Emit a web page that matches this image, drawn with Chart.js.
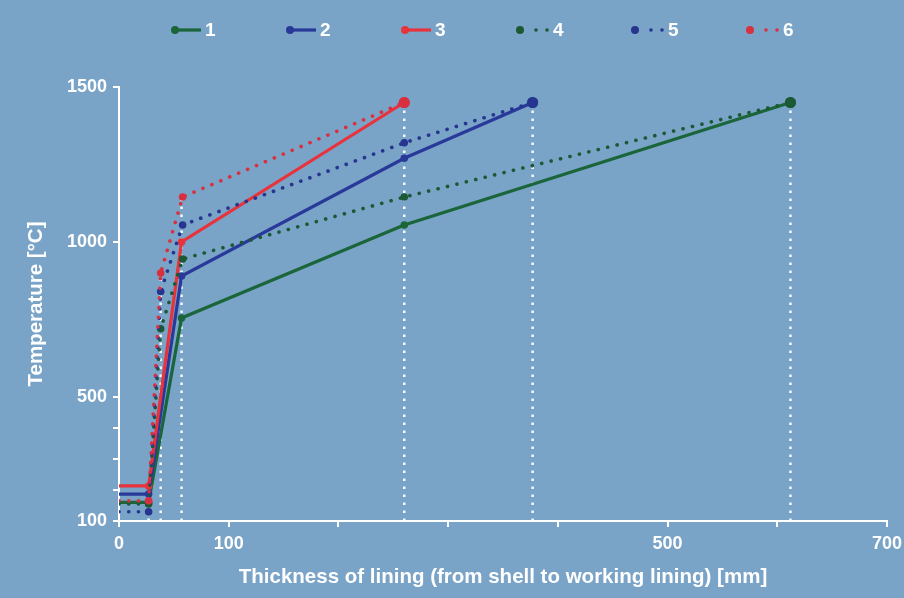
<!DOCTYPE html>
<html>
<head>
<meta charset="utf-8">
<script src="https://cdn.jsdelivr.net/npm/chart.js@4.4.1/dist/chart.umd.min.js"></script>
<style>
  html, body { margin: 0; padding: 0; background: #79a3c7; }
  #wrap { width: 904px; height: 598px; }
</style>
</head>
<body>
<div id="wrap"><canvas id="tempChart" width="904" height="598"></canvas></div>
<script>
// series names (legend)
const seriesNames = ['1', '2', '3', '4', '5', '6'];

// thickness [mm] / temperature [°C]
const s1X = [0, 27, 57, 260, 612];
const s1Y = [160, 160, 755, 1055, 1450];
const s2X = [0, 27, 57, 260, 377];
const s2Y = [187, 187, 890, 1270, 1450];
const s3X = [0, 27, 57, 260];
const s3Y = [213, 213, 1000, 1450];
const s4X = [0, 27, 38, 58, 260, 612];
const s4Y = [155, 155, 720, 945, 1145, 1450];
const s5X = [0, 27, 38, 58, 260, 377];
const s5Y = [130, 130, 840, 1055, 1320, 1450];
const s6X = [0, 27, 38, 58, 260];
const s6Y = [165, 165, 900, 1145, 1450];

// white dotted drop lines
const guideX = [27, 38, 57, 260, 377, 612];
const guideTop = [215, 900, 1145, 1450, 1450, 1450];

// axis ticks
const xTickValues = [0, 100, 200, 300, 400, 500, 600, 700];
const xTickLabels = [0, 100, 500, 700];
const yTickValues = [100, 200, 300, 400, 500, 1000, 1500];
const yTickLabels = [100, 500, 1000, 1500];

const seriesColors = ['#1a6539', '#29399a', '#e8333d', '#1b5934', '#26358f', '#d9303f'];
const FONT = "'Liberation Sans', Arial, sans-serif";

function pts(xs, ys) {
    return xs.map((x, i) => ({ x: x, y: ys[i] }));
}

function radii(n) {
    // no marker at the shell, bigger marker at the end
    return Array.from({ length: n }, (_, i) => i === 0 ? 0 : (i === n - 1 ? 5.5 : 3.8));
}

const allX = [s1X, s2X, s3X, s4X, s5X, s6X];
const allY = [s1Y, s2Y, s3Y, s4Y, s5Y, s6Y];

let datasets = [];
seriesNames.forEach((name, i) => {
    const dotted = i >= 3;
    datasets.push({
        label: name,
        data: pts(allX[i], allY[i]),
        showLine: true,
        borderColor: seriesColors[i],
        backgroundColor: seriesColors[i],
        borderWidth: dotted ? 3.6 : 3.2,
        borderDash: dotted ? [0.1, 9.6] : [],
        borderCapStyle: dotted ? 'round' : 'butt',
        pointRadius: radii(allX[i].length),
        pointBorderWidth: 0,
        order: 6 - i
    });
});

guideX.forEach((gx, i) => {
    datasets.push({
        label: 'guide',
        data: [{ x: gx, y: 100 }, { x: gx, y: guideTop[i] }],
        showLine: true,
        borderColor: 'rgba(255,255,255,0.95)',
        borderWidth: 2.5,
        borderDash: [2.5, 5.5],
        pointRadius: 0,
        order: 20
    });
});

// legend drawn by hand: dot + line / dot + dots
const manualLegend = {
    id: 'manualLegend',
    afterDraw(chart) {
        const ctx = chart.ctx;
        const y = 30;
        ctx.save();
        seriesNames.forEach((name, i) => {
            const x0 = chart.chartArea.left + 56 + i * 115;
            ctx.fillStyle = seriesColors[i];
            ctx.strokeStyle = seriesColors[i];
            ctx.beginPath();
            ctx.arc(x0, y, 4, 0, Math.PI * 2);
            ctx.fill();
            let tx;
            if (i < 3) {
                ctx.lineWidth = 3.2;
                ctx.beginPath();
                ctx.moveTo(x0, y);
                ctx.lineTo(x0 + 26, y);
                ctx.stroke();
                tx = x0 + 30;
            } else {
                [16, 27].forEach(d => {
                    ctx.beginPath();
                    ctx.arc(x0 + d, y, 1.8, 0, Math.PI * 2);
                    ctx.fill();
                });
                tx = x0 + 33;
            }
            ctx.fillStyle = '#ffffff';
            ctx.font = 'bold 19px ' + FONT;
            ctx.textAlign = 'left';
            ctx.textBaseline = 'middle';
            ctx.fillText(name, tx, y + 1);
        });
        ctx.restore();
    }
};

const ctx = document.getElementById('tempChart').getContext('2d');
const chart = new Chart(ctx, {
    type: 'scatter',
    data: { datasets: datasets },
    plugins: [manualLegend],
    options: {
        responsive: false,
        animation: false,
        layout: { padding: { top: 87, right: 17, left: 0, bottom: 0 } },
        plugins: {
            legend: { display: false },
            tooltip: { enabled: false }
        },
        scales: {
            x: {
                type: 'linear',
                min: 0,
                max: 700,
                afterFit: (scale) => {
                    scale.height = 77;
                    // let the "700" label run to the edge like the original
                    scale.paddingRight = 0;
                    scale.paddingLeft = 0;
                },
                afterBuildTicks: (scale) => { scale.ticks = xTickValues.map(v => ({ value: v })); },
                ticks: {
                    color: '#ffffff',
                    font: { family: FONT, size: 18, weight: 'bold' },
                    padding: 6,
                    maxRotation: 0,
                    autoSkip: false,
                    callback: (v) => xTickLabels.includes(v) ? String(v) : ''
                },
                grid: { drawOnChartArea: false, color: '#ffffff', lineWidth: 2, tickLength: 6 },
                border: { color: '#ffffff', width: 2 },
                title: {
                    display: true,
                    text: 'Thickness of lining (from shell to working lining) [mm]',
                    color: '#ffffff',
                    font: { family: FONT, size: 20.5, weight: 'bold' },
                    padding: { top: 0, bottom: 8 }
                }
            },
            y: {
                type: 'linear',
                min: 100,
                max: 1500,
                afterFit: (scale) => { scale.width = 119; },
                afterBuildTicks: (scale) => { scale.ticks = yTickValues.map(v => ({ value: v })); },
                ticks: {
                    color: '#ffffff',
                    font: { family: FONT, size: 18, weight: 'bold' },
                    padding: 6,
                    autoSkip: false,
                    callback: (v) => yTickLabels.includes(v) ? String(v) : ''
                },
                grid: { drawOnChartArea: false, color: '#ffffff', lineWidth: 2, tickLength: 6 },
                border: { color: '#ffffff', width: 2 },
                title: {
                    display: true,
                    text: 'Temperature [°C]',
                    color: '#ffffff',
                    font: { family: FONT, size: 20.5, weight: 'bold' },
                    padding: { top: 24, bottom: 0 }
                }
            }
        }
    }
});
</script>
</body>
</html>
